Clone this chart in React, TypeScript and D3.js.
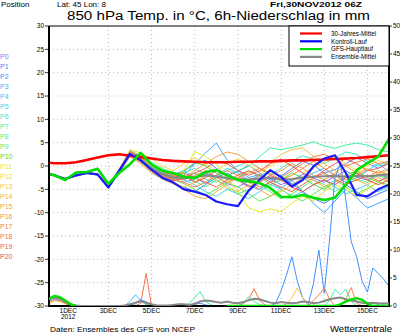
import React from 'react';
import * as d3 from 'd3';

const W = 400;
const H = 333;
const START = Date.UTC(2012, 10, 30, 6);
const END = Date.UTC(2012, 11, 16, 0);

// forecast hours of the temperature series
const MEMBER_HOURS = [0, 6, 18, 30, 42, 54, 66, 78, 90, 102, 114, 126, 138, 150, 162, 174, 186, 198, 210, 222, 234, 246, 258, 270, 282, 294, 306, 318, 330, 342, 354, 366, 378];
// forecast hours of the 6h precipitation series
const PRECIP_HOURS = d3.range(0, 390, 6);

const LEFT_TICKS = [30, 25, 20, 15, 10, 5, 0, -5, -10, -15, -20, -25, -30];
const RIGHT_TICKS = [50, 45, 40, 35, 30, 25, 20, 15, 10, 5, 0];
const GRID_T = [25, 20, 15, 10, 5, 0, -5, -10, -15, -20, -25];
const DATE_DAYS = [1, 3, 5, 7, 9, 11, 13, 15];
const DATE_LABELS = ['1DEC', '3DEC', '5DEC', '7DEC', '9DEC', '11DEC', '13DEC', '15DEC'];

const MEMBER_NAMES = ['P0', 'P1', 'P2', 'P3', 'P4', 'P5', 'P6', 'P7', 'P8', 'P9', 'P10', 'P11', 'P12', 'P13', 'P14', 'P15', 'P16', 'P17', 'P18', 'P19', 'P20'];
const MEMBER_COLORS = ['#7f78ff', '#4f80ff', '#3f90ff', '#40a8ff', '#40c0ff', '#40d8f0', '#40e8c8', '#40f0a0', '#50f070', '#60ee50', '#48e030', '#e8e820', '#f8d840', '#f8c448', '#f8b040', '#f8a040', '#f89040', '#f88048', '#f87050', '#f06060', '#f05050'];

// 850 hPa temperature, members
const P0 = [-1.7, -2.0, -2.9, -2.1, -1.4, -1.9, -4.6, -1.2, 2.5, 1.0, -1.0, -2.2, -3.0, -3.5, -2.8, -1.5, -2.2, -3.8, -4.5, -3.2, -2.0, -2.8, -4.0, -3.1, -1.8, -2.6, -3.5, -2.2, -1.0, -2.4, -3.0, -1.8, -2.5];
const P1 = [-1.7, -2.1, -2.8, -2.0, -1.6, -1.8, -4.8, -1.5, 2.2, 0.8, -1.2, -2.8, -3.8, -4.5, -5.5, -4.0, -2.5, -1.5, -3.0, -4.2, -5.0, -3.5, -2.0, -3.8, -5.5, -7.0, -8.0, -6.5, -4.0, -5.5, -7.0, -6.0, -5.0];
const P2 = [-1.7, -2.0, -2.7, -1.9, -1.5, -1.7, -4.3, -0.8, 3.0, 1.8, 0.0, -1.2, -2.0, -1.0, 0.5, 1.2, -0.5, -2.0, -1.2, 0.2, -1.5, -3.0, -2.2, -0.5, 1.0, 0.2, -1.5, -0.8, 0.5, 1.8, 0.6, -0.5, 0.8];
const P3 = [-1.7, -1.9, -2.8, -2.2, -1.4, -2.0, -4.5, -1.1, 2.6, 1.2, -0.8, -2.0, -2.8, -2.0, 0.5, 2.8, 4.9, 1.3, -1.0, -2.5, -1.8, -3.5, -4.8, -3.0, -5.5, -8.0, -10.0, -7.5, -5.0, -6.8, -9.0, -8.0, -7.0];
const P4 = [-1.7, -2.0, -2.9, -2.0, -1.5, -1.8, -4.2, -0.9, 3.2, 2.0, 0.5, -1.0, -1.8, -1.0, -2.5, -3.8, -2.0, -0.5, -1.5, -3.0, -2.2, -0.8, -2.5, -4.0, -3.0, -1.5, -0.5, -2.0, -3.5, -2.5, -1.0, 0.5, -1.2];
const P5 = [-1.7, -2.0, -2.8, -2.1, -1.5, -1.9, -4.4, -1.0, 2.9, 1.6, -0.3, -1.5, -2.4, -3.0, -4.0, -5.5, -6.5, -5.0, -6.0, -7.0, -5.5, -4.0, -5.0, -6.5, -5.5, -4.0, -3.0, -4.5, -6.0, -5.0, -4.0, -5.5, -4.5];
const P6 = [-1.7, -2.0, -2.8, -2.0, -1.4, -1.8, -4.3, -0.9, 3.0, 1.5, -0.4, -1.6, -2.2, -1.5, -0.5, -1.8, -2.5, -1.0, 0.0, 1.0, -0.5, -1.8, -0.5, 1.0, 2.2, 1.5, 0.5, 1.8, 3.0, 2.5, 1.0, 0.0, 1.0];
const P7 = [-1.7, -2.0, -2.8, -2.0, -1.5, -1.8, -4.4, -1.0, 2.7, 1.3, -0.6, -1.8, -2.6, -2.5, -1.5, -2.8, -3.5, -2.0, -1.0, -0.1, 2.0, 3.9, 3.5, 4.0, 4.5, 5.2, 4.3, 3.8, 4.5, 4.9, 4.5, 3.5, 3.0];
const P8 = [-1.7, -2.0, -2.7, -1.9, -1.4, -1.7, -4.2, -0.8, 3.3, 2.2, 0.8, -0.5, -1.5, -2.0, -3.2, -4.5, -3.0, -4.2, -6.0, -5.0, -3.8, -5.5, -7.0, -6.0, -4.5, -3.0, -4.0, -5.5, -4.0, -2.8, -3.5, -2.0, -3.0];
const P9 = [-1.7, -2.0, -2.9, -2.1, -1.5, -1.9, -4.5, -1.1, 2.4, 1.0, -0.9, -2.0, -2.8, -3.8, -5.0, -6.2, -5.0, -3.5, -4.5, -6.0, -7.5, -6.5, -5.0, -6.5, -7.5, -6.0, -4.5, -3.0, -4.5, -6.0, -4.8, -3.5, -4.0];
const P10 = [-1.7, -2.0, -2.8, -2.0, -1.6, -1.8, -4.3, -1.0, 2.8, 1.5, -0.4, -1.5, -2.2, -1.2, 0.8, 0.0, -1.5, -3.0, -2.5, -1.0, -2.2, -4.0, -3.0, -1.5, -2.5, -4.0, -5.0, -3.5, -2.0, -1.0, -2.5, -3.5, -2.0];
const P11 = [-1.7, -2.0, -2.8, -2.0, -1.5, -1.8, -4.4, -1.2, 2.6, 1.2, -0.6, -1.8, -2.5, -1.0, 3.1, 2.0, 0.5, -2.5, -5.5, -9.0, -9.8, -9.2, -9.8, -8.0, -6.5, -7.5, -5.5, -4.0, -5.0, -6.5, -5.0, -3.5, -4.5];
const P12 = [-1.7, -2.0, -2.7, -1.9, -1.4, -1.7, -4.1, -0.7, 3.5, 2.8, 1.5, 0.0, -1.0, 0.5, 1.8, 0.5, -1.0, 0.5, 1.5, 0.2, -1.2, 0.0, 1.2, 0.0, -1.5, -0.5, 1.0, 2.0, 0.5, -1.0, 0.0, 1.2, 0.3];
const P13 = [-1.7, -2.0, -2.8, -2.0, -1.5, -1.8, -4.5, -1.3, 2.3, 0.8, -1.2, -2.5, -3.5, -4.5, -3.5, -2.0, -3.0, -4.8, -5.5, -4.0, -2.0, 0.6, 2.5, 3.5, 3.9, 2.1, 0.5, -1.0, -2.5, -1.5, -0.5, -1.8, -1.0];
const P14 = [-1.7, -2.0, -2.9, -2.1, -1.5, -1.9, -4.6, -1.4, 2.0, 0.5, -1.5, -2.8, -3.8, -5.0, -6.5, -7.0, -5.5, -4.0, -2.5, -3.5, -5.0, -6.5, -5.5, -4.0, -2.5, -3.0, -4.5, -3.5, -2.0, -3.0, -4.0, -2.5, -3.5];
const P15 = [-1.7, -2.0, -2.8, -2.0, -1.5, -1.8, -4.3, -0.9, 2.9, 1.7, 0.0, -1.2, -2.0, -2.5, -1.0, 0.5, 2.0, 3.0, 2.5, 1.0, -0.5, -2.0, -1.0, 0.5, -0.5, -2.0, -3.0, -1.5, 0.0, -1.5, -2.5, -1.0, -2.0];
const P16 = [-1.7, -2.0, -2.8, -2.0, -1.5, -1.8, -4.4, -1.0, 2.6, 1.2, -0.7, -2.0, -2.7, -3.0, -2.0, -1.0, -2.5, -3.5, -2.5, -1.5, -0.5, -1.5, -3.0, -2.0, -0.5, 1.0, -0.5, -2.0, -3.0, -2.0, -0.8, -1.5, -0.5];
const P17 = [-1.7, -2.0, -2.8, -2.0, -1.5, -1.8, -4.4, -1.1, 2.5, 1.1, -0.8, -2.1, -2.9, -3.5, -4.5, -3.5, -2.0, -1.0, -2.0, -3.2, -4.5, -3.5, -2.5, -1.0, 0.5, 2.0, 2.5, 1.5, 0.0, 0.8, 1.5, 0.5, 1.0];
const P18 = [-1.7, -2.0, -2.8, -2.0, -1.5, -1.8, -4.2, -0.8, 3.1, 2.0, 0.3, -1.2, -2.0, -1.5, -2.5, -3.5, -4.5, -3.0, -2.0, -1.0, -2.0, -3.5, -4.5, -5.5, -4.0, -2.5, -1.5, -2.8, -4.0, -3.0, -2.0, -3.2, -2.5];
const P19 = [-1.7, -2.0, -2.9, -2.1, -1.5, -1.9, -4.5, -1.2, 2.4, 1.0, -1.0, -2.4, -3.2, -2.5, -1.5, -0.5, 1.0, 0.5, -1.0, -2.0, -1.0, 0.5, 1.5, 0.0, -1.5, -2.5, -1.0, 0.5, 1.5, 0.5, -1.0, -0.5, 0.5];
const P20 = [-1.7, -2.0, -2.8, -2.0, -1.5, -1.8, -4.3, -1.0, 2.7, 1.4, -0.4, -1.7, -2.4, -2.0, -3.5, -2.5, -1.0, -2.0, -3.0, -4.5, -3.5, -2.0, -3.0, -4.5, -5.5, -4.0, -3.0, -4.0, -2.5, -1.5, -3.0, -4.0, -3.0];
const MEMBERS = [P0, P1, P2, P3, P4, P5, P6, P7, P8, P9, P10, P11, P12, P13, P14, P15, P16, P17, P18, P19, P20];

// thick series
const CLIMO = [0.7, 0.6, 0.6, 0.8, 1.3, 1.8, 2.3, 2.5, 2.2, 1.9, 1.6, 1.3, 1.1, 1.0, 0.9, 0.8, 0.8, 0.8, 0.9, 0.9, 1.0, 1.0, 1.1, 1.2, 1.2, 1.3, 1.4, 1.5, 1.6, 1.7, 1.9, 2.1, 2.3];
const CONTROL = [-1.7, -2.0, -2.8, -2.0, -1.5, -1.8, -4.6, -1.0, 2.6, 1.2, -0.8, -2.5, -3.5, -5.0, -5.5, -6.2, -7.6, -8.2, -8.6, -5.3, -3.0, -0.9, -2.4, -4.4, -3.0, -0.1, 1.6, 2.3, -1.5, -6.2, -6.5, -5.0, -4.0];
const GFS = [-1.7, -2.0, -3.0, -1.4, -1.3, -0.6, -3.8, -1.5, 0.4, 2.8, 0.3, -1.0, -1.5, -2.3, -2.6, -1.3, -0.9, -2.0, -3.0, -3.3, -3.6, -4.7, -6.6, -6.7, -6.2, -6.8, -7.3, -6.8, -4.0, -0.9, 0.6, 2.0, 5.8];
const MEAN = [-1.7, -2.0, -2.8, -2.0, -1.5, -1.8, -4.3, -1.2, 2.5, 1.2, -0.6, -1.7, -2.5, -2.6, -2.4, -2.0, -2.2, -2.6, -2.8, -2.9, -2.7, -2.5, -2.9, -2.8, -2.5, -2.3, -2.2, -2.1, -2.3, -2.1, -2.2, -2.0, -1.8];

// 6h precipitation (mm): member index, first 6h step, values
const PRECIP_MEMBER = [0, 4, 8, 10, 13, 18, 4, 0, 1, 18, 8, 7, 1, 18, 7, 2, 13, 17, 7, 16, 5];
const PRECIP_FROM = [0, 0, 0, 0, 0, 0, 14, 15, 15, 16, 15, 25, 26, 35, 35, 41, 43, 48, 51, 54, 60];
const PRECIP_VALUES = [
  [1.0, 1.5, 1.3, 0.8, 0.2, 0],
  [0.8, 1.2, 1.0, 0.5, 0],
  [1.2, 1.9, 1.6, 1.0, 0.3, 0],
  [1.0, 1.6, 1.4, 0.7, 0],
  [0.5, 0.9, 0.8, 0.4, 0],
  [0.7, 1.1, 1.0, 0.5, 0],
  [0, 0.8, 2.0, 1.0, 0.2, 0],
  [0, 0.6, 1.2, 0.5, 0],
  [0, 0.4, 1.0, 0.8, 0],
  [0, 0.5, 5.8, 0],
  [0, 0.5, 0.9, 0.3, 0],
  [0, 0.5, 1.5, 2.6, 0.8, 0.2, 0],
  [0, 0.3, 0.5, 0.2, 0],
  [0, 0.4, 1.2, 3.1, 1.0, 0.2, 0],
  [0, 0.6, 1.7, 0.8, 0.3, 0],
  [0, 0.5, 2.7, 5.5, 8.8, 4.5, 1.5, 0.2, 4.0, 10.0, 2.3, 12.0, 23.0, 25.5, 19.0, 11.5, 8.8, 4.5, 2.5, 6.8, 5.8, 4.8, 3.5],
  [0, 0.3, 1.5, 3.2, 1.5, 0.2, 0],
  [0, 1.0, 2.0, 3.2, 1.2, 0],
  [0, 1.0, 3.0, 2.0, 3.0, 0.8, 0],
  [0, 1.2, 3.3, 0.5, 0],
  [0, 0.3, 0.6, 0.4, 0.5],
];
const PRECIP_GFS = [1.3, 1.8, 1.6, 1.0, 0.3, 0, null, null, null, null, null, null, null, null, null, null, null, null, null, null, null, null, null, null, null, null, null, null, null, null, null, null, null, 0, 0, 0, 0, 0, 0, 0, 0, 0, 0, 0, 0, 0, 0, 0, 0, 0, 0, 0, 0, 0, 0.3, 0.8, 1.2, 1.4, 1.1, 0.4, 0, 0, 0, 0, 0];
const PRECIP_MEAN = [1.3, 1.5, 1.3, 0.8, 0.3, 0.1, 0, 0, 0, 0, 0, 0, 0, 0, 0.1, 0.3, 0.6, 0.8, 0.6, 0.3, 0.1, 0.1, 0.1, 0.2, 0.3, 0.3, 0.2, 0.4, 0.8, 1.0, 0.9, 0.7, 0.6, 0.8, 0.6, 0.5, 0.7, 1.0, 1.3, 1.2, 0.9, 0.6, 0.5, 0.7, 0.6, 0.5, 0.6, 0.8, 0.7, 0.5, 0.6, 0.9, 1.2, 1.4, 1.5, 1.2, 1.0, 0.8, 0.6, 0.5, 0.6, 0.5, 0.4, 0.5, 0.5];

const LEGEND_LABELS = ['30-Jahres-Mittel', 'Kontroll-Lauf', 'GFS-Hauptlauf', 'Ensemble-Mittel'];
const LEGEND_COLORS = ['#ff0000', '#0000ff', '#00e000', '#888888'];

const FONT = 'Liberation Sans, Arial, sans-serif';

export default function App() {
  const x = d3.scaleUtc().domain([new Date(START), new Date(END)]).range([49, 389]);
  const yT = d3.scaleLinear().domain([-30, 30]).range([306, 26]);
  const yP = d3.scaleLinear().domain([0, 50]).range([306, 26]);
  const hx = (h: number) => x(new Date(START + h * 3600e3));
  const left = x.range()[0];
  const right = x.range()[1];
  const top = yT(30);
  const bottom = yT(-30);

  const tPath = (vals: number[]) =>
    d3.line<number>().x((_, i) => hx(MEMBER_HOURS[i])).y((v) => yT(v))(vals) || '';
  const pPath = (from: number, vals: (number | null)[]) =>
    d3
      .line<number | null>()
      .defined((v) => v !== null)
      .x((_, i) => hx(PRECIP_HOURS[from + i]))
      .y((v) => yP(v as number))(vals) || '';

  const dayX = (d: number) => x(new Date(Date.UTC(2012, 11, d, 0)));

  return (
    <svg width={W} height={H} style={{ position: 'absolute', left: 0, top: 0, background: '#fff' }} fontFamily={FONT}>
      <defs>
        <clipPath id="plot">
          <rect x={left} y={top} width={right - left} height={bottom - top} />
        </clipPath>
      </defs>
      <rect x={0} y={0} width={W} height={H} fill="#fff" />

      {/* header */}
      <text x={1} y={7} fontSize={8} fill="#000">Position</text>
      <text x={57} y={7} fontSize={8} fill="#000">Lat: 45 Lon: 8</text>
      <text x={270} y={7} fontSize={8} fontWeight="bold" fill="#000" textLength={92} lengthAdjust="spacingAndGlyphs">Fri,30NOV2012 06Z</text>
      <text x={67} y={20} fontSize={12.5} fill="#000" textLength={303} lengthAdjust="spacingAndGlyphs">850 hPa Temp. in °C, 6h-Niederschlag in mm</text>

      {/* grid */}
      <g stroke="#aaa" strokeWidth={0.8} strokeDasharray="1 3">
        {GRID_T.map((t) => (
          <line key={'h' + t} x1={left} x2={right} y1={yT(t)} y2={yT(t)} />
        ))}
        {DATE_DAYS.slice(1).map((d) => (
          <line key={'v' + d} x1={dayX(d)} x2={dayX(d)} y1={top} y2={bottom} />
        ))}
      </g>

      <g clipPath="url(#plot)" fill="none" strokeLinejoin="round">
        {MEMBERS.map((m, i) => (
          <path key={'m' + i} d={tPath(m)} stroke={MEMBER_COLORS[i]} strokeWidth={1} />
        ))}
        {PRECIP_VALUES.map((v, k) => (
          <path key={'p' + k} d={pPath(PRECIP_FROM[k], v)} stroke={MEMBER_COLORS[PRECIP_MEMBER[k]]} strokeWidth={1} />
        ))}
        <path d={tPath(MEAN)} stroke="#888" strokeWidth={2.2} />
        <path d={tPath(CLIMO)} stroke="#ff0000" strokeWidth={2.6} />
        <path d={tPath(CONTROL)} stroke="#1a1aff" strokeWidth={2.2} />
        <path d={tPath(GFS)} stroke="#00e000" strokeWidth={2.6} />
      </g>

      {/* frame and axes */}
      <g stroke="#000" fill="none">
        <line x1={left} x2={right} y1={top} y2={top} strokeWidth={1} />
        <line x1={left} x2={left} y1={top} y2={bottom + 1} strokeWidth={2} />
        <line x1={right} x2={right} y1={top} y2={bottom + 1} strokeWidth={2} />
        <line x1={left - 1} x2={right + 1} y1={bottom} y2={bottom} strokeWidth={2} />
        {LEFT_TICKS.map((t) => (
          <line key={'lt' + t} x1={left - 4} x2={left} y1={yT(t)} y2={yT(t)} strokeWidth={0.8} />
        ))}
        {RIGHT_TICKS.map((t) => (
          <line key={'rt' + t} x1={right} x2={right + 3} y1={yP(t)} y2={yP(t)} strokeWidth={0.8} />
        ))}
      </g>

      <g clipPath="url(#plot)" fill="none">
        <path d={pPath(0, PRECIP_MEAN)} stroke="#888" strokeWidth={2} />
        <path d={pPath(0, PRECIP_GFS)} stroke="#00e000" strokeWidth={2.4} />
      </g>

      {/* tick labels */}
      <g fontSize={6.5} fill="#000">
        {LEFT_TICKS.map((t) => (
          <text key={'ll' + t} x={left - 5} y={yT(t) + 2.3} textAnchor="end">{t}</text>
        ))}
        {RIGHT_TICKS.map((t) => (
          <text key={'rl' + t} x={right + 4} y={yP(t) + 2.3}>{t}</text>
        ))}
        {DATE_DAYS.map((d, i) => (
          <text key={'dl' + d} x={dayX(d) + (i === 0 ? 3 : 0)} y={bottom + 7} textAnchor="middle">{DATE_LABELS[i]}</text>
        ))}
        <text x={dayX(1) + 3} y={bottom + 13} textAnchor="middle">2012</text>
      </g>

      {/* member labels */}
      <g fontSize={7}>
        {MEMBER_NAMES.map((n, i) => (
          <text key={n} x={0} y={58.5 + i * 10} fill={MEMBER_COLORS[i]}>{n}</text>
        ))}
      </g>

      {/* legend */}
      <rect x={289} y={top} width={right - 289} height={40} fill="#fff" stroke="#000" strokeWidth={1} />
      {LEGEND_LABELS.map((l, i) => (
        <g key={l}>
          <line x1={300} x2={322} y1={33.5 + i * 7.8} y2={33.5 + i * 7.8} stroke={LEGEND_COLORS[i]} strokeWidth={2.2} />
          <text x={331} y={35.8 + i * 7.8} fontSize={6.3} fill="#000">{l}</text>
        </g>
      ))}

      {/* footer */}
      <text x={50} y={332} fontSize={8} fill="#000" textLength={145} lengthAdjust="spacingAndGlyphs">Daten: Ensembles des GFS von NCEP</text>
      <text x={330} y={332} fontSize={9} fill="#000" textLength={62} lengthAdjust="spacingAndGlyphs">Wetterzentrale</text>
    </svg>
  );
}
